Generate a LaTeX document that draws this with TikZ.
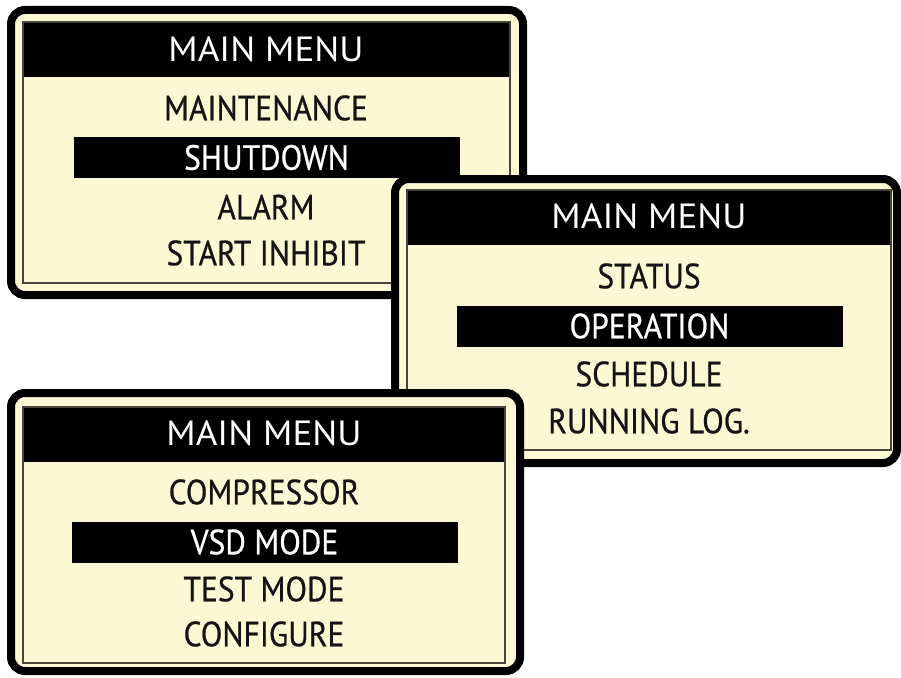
\documentclass[tikz,border=0pt]{standalone}
\usepackage{fontspec}
\setmainfont{PT Sans}
\newfontfamily\itemface[FakeStretch=0.9, FakeBold=0.6]{PT Sans}
\newfontfamily\titleface[FakeStretch=1.06]{PT Sans}
\definecolor{lcdcream}{HTML}{FBF9D3}
\definecolor{lcdline}{HTML}{45453A}
\newcommand{\menufont}{\itemface\fontsize{35}{40}\selectfont}
\newcommand{\headfont}{\titleface\fontsize{35}{40}\selectfont}
\tikzset{
	panel/.style={draw=black, line width=8pt, fill=lcdcream, rounded corners=14pt},
	screen/.style={draw=lcdline, line width=2pt},
	menuitem/.style={text=black!92, font=\menufont, inner sep=0pt},
	menutitle/.style={inner sep=0pt, text=white, font=\headfont},
	selitem/.style={menuitem, text=white, fill=black, minimum height=41pt, minimum width=386pt},
}

\begin{document}
\begin{tikzpicture}[x=1pt, y=-1pt]
		\useasboundingbox (0,0) rectangle (901,677);
		% first screen
		\draw[panel] (11,10) rectangle (523,295);
		\fill (23,22) rectangle (510,77);
		\draw[screen] (23,22) rectangle (510,283);
		\node[menutitle] (titleA) at (266,49) {MAIN MENU};
		\node[menuitem] (maintA) at (266,108) {MAINTENANCE};
		\node[selitem] (shutA) at (266.5,157.5) {SHUTDOWN};
		\node[menuitem] (alarmA) at (266,207) {ALARM};
		\node[menuitem] (inhibA) at (266,253) {START INHIBIT};
		% second screen
		\draw[panel] (395,179) rectangle (897,463);
		\fill (407,190) rectangle (891,245);
		\draw[screen] (407,190) rectangle (891,450);
		\node[menutitle] (titleB) at (649,216) {MAIN MENU};
		\node[menuitem] (statB) at (649,276) {STATUS};
		\node[selitem] (operB) at (649.5,326) {OPERATION};
		\node[menuitem] (schedB) at (649,374) {SCHEDULE};
		\node[menuitem] (logB) at (649,421) {RUNNING LOG.};
		% third screen
		\draw[panel] (11,393) rectangle (520,671);
		\fill (23,407) rectangle (505,462);
		\draw[screen] (23,407) rectangle (505,663);
		\node[menutitle] (titleC) at (264,433) {MAIN MENU};
		\node[menuitem] (compC) at (264,492) {COMPRESSOR};
		\node[selitem] (vsdC) at (264.5,542) {VSD MODE};
		\node[menuitem] (testC) at (264,589) {TEST MODE};
		\node[menuitem] (confC) at (264,634) {CONFIGURE};
	\end{tikzpicture}
\end{document}
